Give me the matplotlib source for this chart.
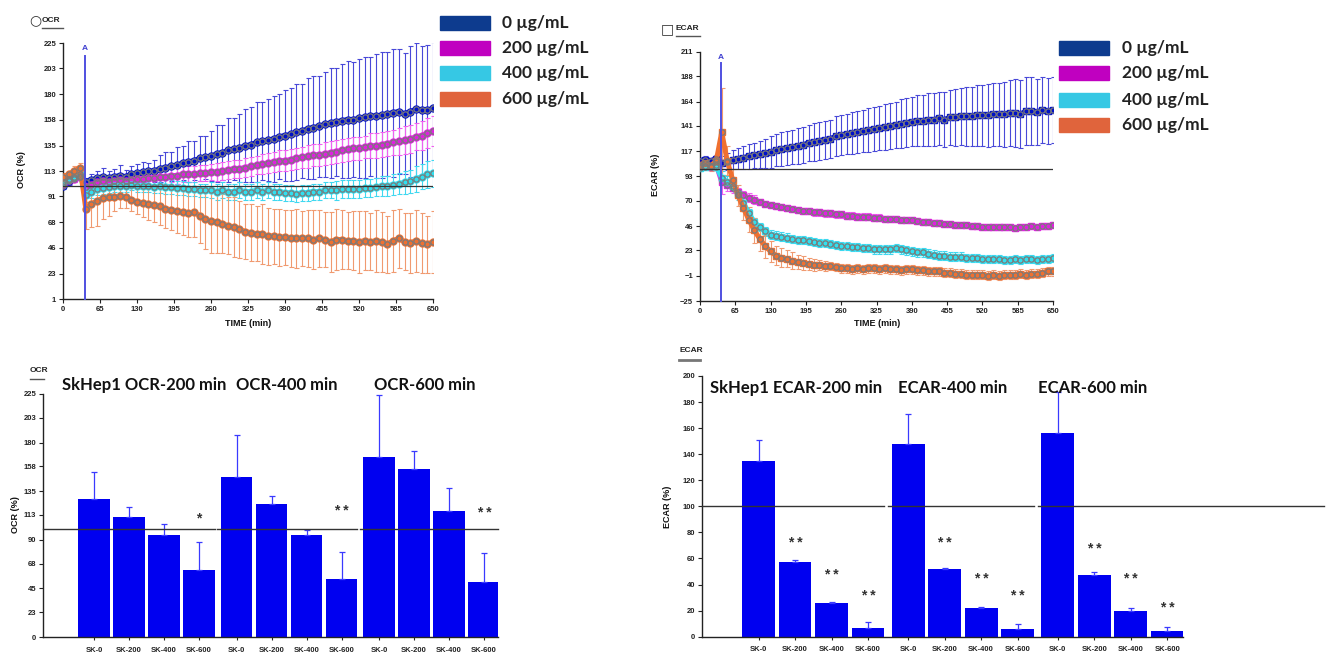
import numpy as np
import matplotlib
matplotlib.use("Agg")
import matplotlib.pyplot as plt
from matplotlib.patches import Rectangle
from matplotlib.lines import Line2D

plt.rcParams['font.family'] = ['Liberation Sans', 'DejaVu Sans']

# ---------------- data ----------------
TIME = np.arange(0, 651, 10)
INJECT_T = 38

DOSE_LABELS = ["0 \u00b5g/mL", "200 \u00b5g/mL", "400 \u00b5g/mL", "600 \u00b5g/mL"]

OCR_0 = [100, 104, 107, 109, 103, 105, 107, 108, 107, 108,
         109, 108, 110, 111, 112, 113, 113, 115, 116, 117,
         118, 120, 121, 122, 124, 125, 126, 128, 129, 131,
         132, 133, 135, 136, 138, 139, 140, 141, 143, 144,
         145, 147, 148, 150, 151, 152, 154, 155, 156, 157,
         158, 158, 159, 160, 161, 161, 162, 163, 164, 165,
         163, 165, 167, 166, 166, 168]
OCR_0_ERR = [3, 3, 4, 4, 4, 5, 6, 8, 6, 7,
             9, 6, 7, 8, 9, 7, 10, 12, 14, 13,
             16, 15, 18, 17, 20, 19, 22, 25, 24, 28,
             27, 30, 32, 33, 35, 34, 36, 38, 37, 40,
             41, 42, 41, 44, 45, 44, 46, 48, 47, 50,
             51, 50, 52, 53, 52, 54, 55, 54, 56, 55,
             53, 57, 58, 56, 57, 58]
OCR_200 = [102, 105, 106, 108, 99, 101, 103, 104, 103, 104,
           105, 104, 105, 106, 106, 107, 107, 108, 108, 109,
           109, 110, 110, 110, 111, 111, 112, 112, 113, 114,
           115, 115, 116, 117, 118, 119, 120, 121, 122, 122,
           123, 124, 125, 126, 127, 127, 128, 129, 130, 131,
           132, 133, 133, 134, 135, 135, 136, 137, 138, 139,
           140, 141, 143, 144, 146, 148]
OCR_200_ERR = [3, 3, 3, 3, 4, 4, 5, 5, 5, 5,
               5, 5, 5, 6, 6, 6, 6, 6, 6, 6,
               7, 7, 7, 7, 7, 7, 7, 8, 8, 8,
               8, 8, 8, 8, 8, 9, 9, 9, 9, 9,
               9, 9, 9, 10, 10, 10, 10, 10, 10, 10,
               10, 10, 10, 10, 11, 11, 11, 11, 11, 12,
               12, 12, 12, 13, 13, 13]
OCR_400 = [103, 106, 108, 110, 92, 95, 97, 98, 99, 100,
           100, 100, 101, 100, 100, 100, 99, 100, 99, 99,
           98, 98, 97, 97, 96, 96, 96, 95, 96, 95,
           95, 96, 95, 95, 96, 95, 96, 95, 95, 94,
           94, 93, 94, 94, 95, 95, 96, 96, 96, 97,
           97, 97, 97, 98, 98, 99, 100, 100, 101, 102,
           103, 104, 106, 108, 110, 111]
OCR_400_ERR = [3, 3, 3, 3, 6, 6, 5, 5, 5, 5,
               5, 5, 5, 5, 5, 5, 5, 6, 6, 6,
               6, 6, 6, 6, 6, 6, 7, 7, 7, 7,
               7, 7, 7, 7, 7, 7, 7, 7, 7, 7,
               7, 7, 7, 7, 7, 7, 7, 7, 8, 8,
               8, 8, 8, 8, 8, 8, 9, 9, 9, 9,
               10, 10, 11, 11, 12, 12]
OCR_600 = [108, 110, 113, 116, 80, 84, 87, 89, 90, 90,
           91, 90, 88, 86, 85, 84, 83, 82, 80, 79,
           78, 77, 76, 77, 74, 71, 69, 68, 67, 65,
           64, 62, 60, 59, 58, 58, 56, 56, 55, 55,
           54, 54, 54, 54, 53, 54, 53, 51, 53, 53,
           52, 52, 51, 52, 51, 52, 51, 49, 52, 54,
           51, 50, 52, 50, 49, 51]
OCR_600_ERR = [3, 3, 4, 4, 18, 20, 22, 18, 16, 12,
               10, 9, 10, 11, 12, 14, 15, 16, 17, 18,
               19, 20, 21, 22, 24, 26, 28, 27, 26, 25,
               26, 25, 24, 25, 24, 26, 25, 24, 25, 24,
               25, 26, 24, 25, 26, 25, 24, 26, 27, 26,
               25, 26, 27, 26, 25, 27, 26, 25, 27, 26,
               25, 26, 27, 26, 25, 27]

ECAR_0 = [108, 109, 108, 110, 106, 107, 109, 110, 111, 112,
          113, 114, 115, 116, 118, 119, 120, 121, 122, 123,
          125, 126, 127, 128, 129, 131, 132, 133, 134, 135,
          136, 137, 138, 139, 140, 141, 142, 143, 144, 145,
          146, 146, 147, 147, 148, 147, 149, 149, 150, 150,
          150, 151, 151, 151, 152, 152, 152, 153, 153, 152,
          155, 155, 154, 156, 155, 156]
ECAR_0_ERR = [3, 3, 3, 3, 6, 8, 9, 10, 11, 12,
              12, 13, 14, 15, 15, 16, 16, 16, 17, 17,
              17, 18, 18, 18, 18, 19, 19, 19, 20, 20,
              20, 21, 21, 21, 22, 22, 22, 23, 23, 23,
              24, 24, 25, 25, 25, 26, 26, 27, 27, 28,
              28, 29, 29, 30, 30, 30, 31, 31, 32, 32,
              32, 32, 31, 31, 31, 31]
ECAR_200 = [102, 103, 102, 104, 88, 85, 82, 78, 75, 73,
            71, 69, 67, 66, 65, 64, 63, 62, 61, 60,
            60, 59, 59, 58, 58, 57, 57, 56, 56, 55,
            55, 55, 54, 54, 53, 53, 53, 52, 52, 52,
            51, 50, 50, 49, 49, 48, 48, 47, 47, 47,
            46, 46, 45, 45, 45, 45, 45, 45, 44, 45,
            45, 46, 45, 46, 46, 47]
ECAR_200_ERR = [3, 3, 3, 3, 12, 6, 5, 4, 4, 4,
                4, 3, 3, 3, 3, 3, 3, 3, 3, 3,
                3, 3, 3, 3, 3, 3, 3, 3, 3, 3,
                3, 3, 3, 3, 3, 3, 3, 3, 3, 3,
                3, 3, 3, 3, 3, 3, 3, 3, 3, 3,
                3, 3, 3, 3, 3, 3, 3, 3, 3, 3,
                3, 3, 3, 3, 3, 3]
ECAR_400 = [101, 102, 103, 102, 92, 88, 84, 76, 68, 58,
            50, 45, 41, 38, 37, 36, 35, 34, 33, 33,
            32, 31, 30, 30, 29, 28, 27, 27, 26, 26,
            25, 25, 24, 24, 24, 24, 25, 24, 23, 22,
            21, 21, 20, 19, 18, 18, 17, 17, 17, 16,
            16, 16, 15, 15, 15, 15, 14, 14, 15, 14,
            15, 15, 14, 15, 15, 16]
ECAR_400_ERR = [3, 3, 3, 3, 6, 5, 5, 5, 5, 4,
                4, 4, 4, 4, 4, 4, 4, 4, 4, 4,
                4, 4, 4, 4, 4, 4, 4, 4, 4, 4,
                4, 4, 4, 4, 4, 4, 4, 4, 4, 4,
                4, 4, 4, 4, 4, 4, 4, 4, 4, 4,
                4, 4, 4, 4, 4, 4, 4, 4, 4, 4,
                4, 4, 4, 4, 4, 4]
ECAR_600 = [104, 106, 103, 108, 135, 108, 90, 75, 63, 52,
            42, 34, 27, 22, 18, 16, 15, 13, 12, 11,
            10, 9, 9, 8, 8, 7, 6, 6, 5, 6,
            5, 6, 6, 5, 6, 5, 5, 4, 5, 5,
            4, 4, 3, 3, 3, 2, 2, 1, 1, 0,
            0, 0, 0, -1, 0, -1, 0, 0, 0, 1,
            0, 1, 1, 2, 3, 3]
ECAR_600_ERR = [4, 4, 5, 5, 42, 14, 10, 10, 11, 12,
                12, 12, 11, 10, 9, 9, 8, 8, 7, 7,
                6, 6, 5, 5, 4, 4, 4, 4, 4, 4,
                4, 4, 4, 4, 4, 4, 4, 4, 4, 4,
                4, 4, 4, 4, 4, 4, 4, 4, 4, 4,
                4, 4, 4, 4, 4, 4, 4, 4, 4, 4,
                4, 4, 4, 4, 4, 4]

BAR_LABELS = ["SK-0", "SK-200", "SK-400", "SK-600"]
OCR_TITLES = ["SkHep1 OCR-200 min", "OCR-400 min", "OCR-600 min"]
OCR_BARS = [[128, 111, 94, 62], [148, 123, 94, 54], [167, 156, 117, 51]]
OCR_BARS_ERR = [[25, 9, 11, 26], [39, 8, 5, 25], [57, 16, 21, 27]]
OCR_STARS = [["", "", "", "*"], ["", "", "", "**"], ["", "", "", "**"]]
OCR_STAR_Y = [[0, 0, 0, 110], [0, 0, 0, 117], [0, 0, 0, 115]]

ECAR_TITLES = ["SkHep1 ECAR-200 min", "ECAR-400 min", "ECAR-600 min"]
ECAR_BARS = [[135, 57, 26, 7], [148, 52, 22, 6], [156, 47, 20, 4.4]]
ECAR_BARS_ERR = [[16, 2, 1, 4.5], [23, 0.6, 1, 3.6], [32, 2.4, 2.3, 3.3]]
ECAR_STARS = [["", "**", "**", "**"], ["", "**", "**", "**"], ["", "**", "**", "**"]]
ECAR_STAR_Y = [[0, 72, 47, 31], [0, 72, 44, 31], [0, 67, 44, 22]]

# ---------------- style ----------------
W, H = 1327, 654
LEG_COLORS = ["#0d3b8e", "#c000c0", "#36c8e4", "#e0643c"]
LINE_COLORS = ["#0010c8", "#e020e0", "#30e0f0", "#f07030"]
ERR_COLORS = ["#4848d8", "#f060f0", "#40d8f0", "#f09a70"]
BAR_COLOR = "#0000f0"
BAR_ERR = "#3a3aff"
TICK_FS = 5.5


def fx(px):
    return px / W


def fy(py):
    return 1 - py / H


fig = plt.figure(figsize=(W / 100, H / 100), dpi=100)


def style_axes(ax):
    for s in ["top", "right"]:
        ax.spines[s].set_visible(False)
    for s in ["left", "bottom"]:
        ax.spines[s].set_linewidth(1.0)
        ax.spines[s].set_color("#222222")
    ax.tick_params(length=3, width=0.8, labelsize=TICK_FS, pad=2, colors="#222222")
    for lab in ax.get_xticklabels() + ax.get_yticklabels():
        lab.set_fontweight("bold")


def time_panel(rect, series, errs, yticks, ylim, inj_top, a_y, marker):
    ax = fig.add_axes(rect)
    for v, e, lc, ec in zip(series, errs, LINE_COLORS, ERR_COLORS):
        ax.errorbar(TIME, v, yerr=e, fmt="none", ecolor=ec, elinewidth=0.8,
                    capsize=1.8, capthick=0.8, zorder=2)
        ax.plot(TIME, v, color=lc, lw=3.6, marker=marker, ms=5, mfc=lc,
                mec=lc, zorder=3)
        ax.plot(TIME, v, ls="none", marker="o", ms=3.8, mfc="none",
                mec="#7a7a7a", mew=0.9, zorder=4)
    ax.plot([0, 650], [100, 100], color="#333333", lw=0.9, zorder=5)
    ax.plot([INJECT_T, INJECT_T], [ylim[0], inj_top], color="#5050e0", lw=1.4,
            zorder=6, clip_on=False)
    ax.text(INJECT_T, a_y, "A", color="#4040d0", fontsize=6, fontweight="bold",
            ha="center", va="center")
    ax.set_xlim(0, 650)
    ax.set_ylim(*ylim)
    ax.set_xticks(list(range(0, 651, 65)))
    ax.set_yticks(yticks)
    style_axes(ax)
    return ax


time_panel([fx(63), fy(299), fx(433 - 63), (299 - 43) / H],
           [OCR_0, OCR_200, OCR_400, OCR_600],
           [OCR_0_ERR, OCR_200_ERR, OCR_400_ERR, OCR_600_ERR],
           [1, 23, 46, 68, 91, 113, 135, 158, 180, 203, 225], (1, 225),
           214, 220, "o")
time_panel([fx(700), fy(301), fx(1053 - 700), (301 - 52) / H],
           [ECAR_0, ECAR_200, ECAR_400, ECAR_600],
           [ECAR_0_ERR, ECAR_200_ERR, ECAR_400_ERR, ECAR_600_ERR],
           [-25, -1, 23, 46, 70, 93, 117, 141, 164, 188, 211], (-25, 211),
           201, 206, "s")


def bar_panel(rect, xlim, gstep, bars, errs, stars, stary, titles, title_x,
              title_y, yticks, ylim, seg_right):
    ax = fig.add_axes(rect)
    pos_all, lab_all = [], []
    for g in range(3):
        pos = [gstep * g + i for i in range(4)]
        ax.bar(pos, bars[g], width=0.9, color=BAR_COLOR, zorder=2)
        ax.errorbar(pos, bars[g], yerr=[[0] * 4, errs[g]], fmt="none",
                    ecolor=BAR_ERR, elinewidth=0.9, capsize=2, capthick=0.9,
                    zorder=3)
        for p, s, sy in zip(pos, stars[g], stary[g]):
            if s:
                ax.text(p, sy, " ".join(s), ha="center", va="center",
                        fontsize=10, fontweight="bold", color="#333333")
        left = xlim[0] if g == 0 else pos[0] - 0.55
        right = seg_right if g == 2 else pos[-1] + 0.45
        ax.plot([left, right], [100, 100], color="#333333", lw=1.0, zorder=4,
                clip_on=False)
        ax.text(title_x[g], title_y, titles[g], ha="center", va="center",
                fontsize=12, fontweight="bold", family=["Lato", "DejaVu Sans"],
                color="#111111")
        pos_all += pos
        lab_all += BAR_LABELS
    ax.set_xlim(*xlim)
    ax.set_ylim(*ylim)
    ax.set_yticks(yticks)
    ax.set_xticks(pos_all, lab_all)
    style_axes(ax)
    ax.tick_params(axis="x", length=2, pad=5)
    return ax


bar_panel([fx(43), fy(637), fx(498 - 43), (637 - 394) / H], (-1.46, 11.54),
          4.07, OCR_BARS, OCR_BARS_ERR, OCR_STARS, OCR_STAR_Y, OCR_TITLES,
          [1.42, 5.51, 9.46], 233, [0, 23, 45, 68, 90, 113, 135, 158, 180, 203, 225],
          (0, 225), 11.54)
bar_panel([fx(702), fy(636.7), fx(1183 - 702), (636.7 - 376) / H], (-1.55, 11.63),
          4.1, ECAR_BARS, ECAR_BARS_ERR, ECAR_STARS, ECAR_STAR_Y, ECAR_TITLES,
          [1.03, 5.33, 9.14], 191, list(range(0, 201, 20)), (0, 200), 15.5)

# ---------------- legends ----------------
def legend(x0, yc_list, text_x):
    for lab, col, yc in zip(DOSE_LABELS, LEG_COLORS, yc_list):
        fig.patches.append(Rectangle((fx(x0), fy(yc + 7)), fx(50), 14 / H,
                                     transform=fig.transFigure, color=col))
        fig.text(fx(text_x), fy(yc), lab, ha="left", va="center", fontsize=12.5,
                 fontweight="bold", family=["Lato", "DejaVu Sans"], color="#222222")


legend(440, [23, 48, 73, 99], 502)
legend(1059, [48, 73, 100, 125], 1122)

# ---------------- axis labels / headers ----------------
lab_kw = dict(fontsize=6.5, fontweight="bold", color="#111111", ha="center",
              va="center")
fig.text(fx(22), fy(170), "OCR (%)", rotation=90, **lab_kw)
fig.text(fx(655), fy(175), "ECAR (%)", rotation=90, **lab_kw)
fig.text(fx(15), fy(515), "OCR (%)", rotation=90, **lab_kw)
fig.text(fx(668), fy(507), "ECAR (%)", rotation=90, **lab_kw)
fig.text(fx(248), fy(323), "TIME (min)", **lab_kw)
fig.text(fx(877), fy(324), "TIME (min)", **lab_kw)

hdr = dict(fontsize=6, fontweight="bold", color="#222222", va="center")
fig.text(fx(29), fy(20), "\u25cb", fontsize=10, color="#333333", va="center",
         family=["DejaVu Sans"])
fig.text(fx(42), fy(20), "OCR", ha="left", **hdr)
fig.lines.append(Line2D([fx(42), fx(63)], [fy(28), fy(28)], color="#555555",
                        lw=1, transform=fig.transFigure))
fig.text(fx(661), fy(29), "\u25a1", fontsize=10, color="#333333", va="center",
         family=["DejaVu Sans"])
fig.text(fx(676), fy(29), "ECAR", ha="left", **hdr)
fig.lines.append(Line2D([fx(676), fx(700)], [fy(36), fy(36)], color="#555555",
                        lw=1, transform=fig.transFigure))
fig.text(fx(30), fy(371), "OCR", ha="left", **hdr)
fig.lines.append(Line2D([fx(30), fx(44)], [fy(379), fy(379)], color="#555555",
                        lw=1, transform=fig.transFigure))
fig.text(fx(679), fy(351), "ECAR", ha="left", **hdr)
fig.lines.append(Line2D([fx(679), fx(700)], [fy(360), fy(360)], color="#777777",
                        lw=2, transform=fig.transFigure))

fig.savefig("out.png", dpi=100)
